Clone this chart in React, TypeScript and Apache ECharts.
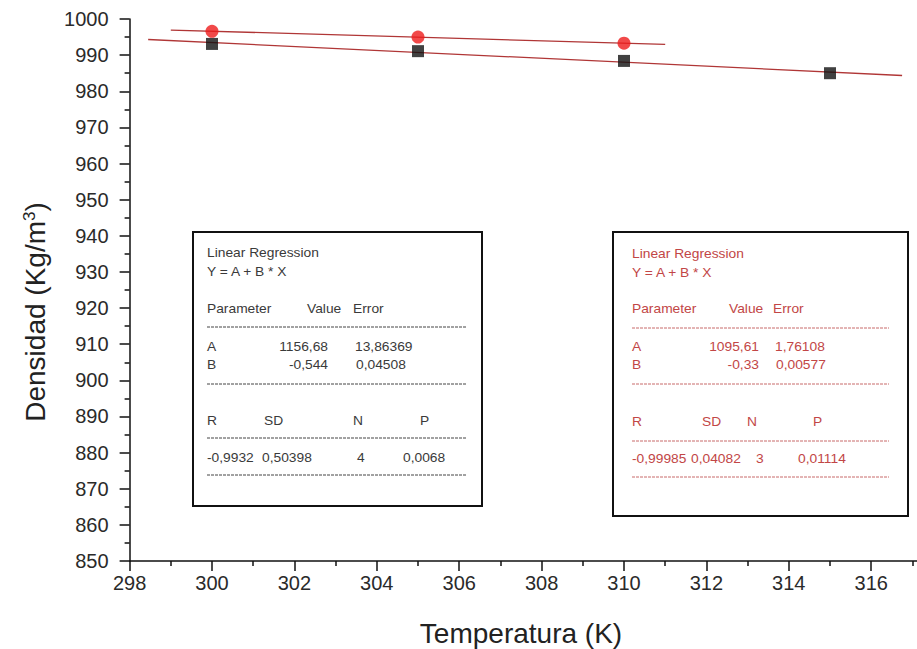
import React, { useEffect, useRef } from "react";
import * as echarts from "echarts";

// Measured densities (Kg/m3) against temperature (K)
const tempsBlack = [300, 305, 310, 315];
const densityBlack = [993.1, 991.1, 988.4, 985.0];
const tempsRed = [300, 305, 310];
const densityRed = [996.6, 995.0, 993.3];

// Linear fits Y = A + B * X : [A, A error, B, B error]
const fitBlackParams = [1156.68, 13.86369, -0.544, 0.04508];
const fitRedParams = [1095.61, 1.76108, -0.33, 0.00577];
// [R, SD, N, P]
const fitBlackStats = [-0.9932, 0.50398, 4, 0.0068];
const fitRedStats = [-0.99985, 0.04082, 3, 0.01114];
// Temperature span of each fitted line
const fitBlackRange = [298.45, 316.75];
const fitRedRange = [299, 311];

const FONT = '"Liberation Sans", Arial, sans-serif';
const fmt = (v: number) => String(v).replace(".", ",");

const fitLine = (p: number[], range: number[]) =>
  range.map((x) => [x, p[0] + p[2] * x]);

type BoxLayout = {
  color: string;
  dash: string;
  left: number;
  colX: number[]; // Value (right edge), Error (left edge)
  headX: number[]; // Value, Error headers
  statX: number[]; // R, SD, N, P headers
  statValX: number[]; // their values
  rows: number[]; // y of: title, eq, header, line1, A, B, line2, stat header, line3, stat vals, line4
  lineEnd: number;
};

function regressionBox(params: number[], stats: number[], L: BoxLayout) {
  const els: any[] = [];
  const t = (text: string, x: number, y: number, align = "left") => {
    els.push({
      type: "text",
      x,
      y,
      scaleX: 1.15,
      z: 10,
      style: {
        text,
        fill: L.color,
        font: `12px ${FONT}`,
        align,
        textAlign: align,
        verticalAlign: "middle",
        textVerticalAlign: "middle",
      },
    });
  };
  const ln = (y: number) => {
    els.push({
      type: "line",
      z: 10,
      shape: { x1: L.left, y1: y, x2: L.lineEnd, y2: y },
      style: { stroke: L.dash, lineWidth: 1, lineDash: [3, 1] },
    });
  };
  const r = L.rows;
  t("Linear Regression", L.left, r[0]);
  t("Y = A + B * X", L.left, r[1]);
  t("Parameter", L.left, r[2]);
  t("Value", L.headX[0], r[2]);
  t("Error", L.headX[1], r[2]);
  ln(r[3]);
  t("A", L.left, r[4]);
  t(fmt(params[0]), L.colX[0], r[4], "right");
  t(fmt(params[1]), L.colX[1], r[4]);
  t("B", L.left, r[5]);
  t(fmt(params[2]), L.colX[0], r[5], "right");
  t(fmt(params[3]), L.colX[1] + 1, r[5]);
  ln(r[6]);
  ["R", "SD", "N", "P"].forEach((s, i) => t(s, L.statX[i], r[7]));
  ln(r[8]);
  stats.forEach((v, i) => t(fmt(v), L.statValX[i], r[9]));
  ln(r[10]);
  return els;
}

export default function App() {
  const ref = useRef<HTMLDivElement>(null);

  useEffect(() => {
    if (!ref.current) return;
    const chart = echarts.init(ref.current, null, { renderer: "svg" });

    const axisCommon = {
      type: "value" as const,
      splitLine: { show: false },
      axisLine: { show: true, onZero: false, lineStyle: { color: "#111", width: 1.5 } },
      axisTick: { show: true, inside: false, length: 10, lineStyle: { color: "#111", width: 1.5 } },
      minorTick: { show: true, splitNumber: 2, length: 5, lineStyle: { color: "#111", width: 1.5 } },
      minorSplitLine: { show: false },
    };
    const labelStyle = {
      fontSize: 20,
      fontFamily: FONT,
      color: "#2a2a2a",
      formatter: (v: number) => String(v),
    };

    const leftBox = regressionBox(fitBlackParams, fitBlackStats, {
      color: "#3a3a3a",
      dash: "#444",
      left: 207,
      colX: [328, 355],
      headX: [307, 353],
      statX: [207, 264, 353, 420],
      statValX: [207, 262, 357, 403],
      rows: [253, 272, 309, 327, 347, 365, 384, 421, 438, 458, 475],
      lineEnd: 467,
    });
    const rightBox = regressionBox(fitRedParams, fitRedStats, {
      color: "#c24646",
      dash: "#c86a6a",
      left: 632,
      colX: [759, 775],
      headX: [729, 773],
      statX: [632, 702, 747, 813],
      statValX: [632, 691, 756, 798],
      rows: [254, 273, 309, 328, 347, 365, 384, 422, 441, 459, 477],
      lineEnd: 889,
    });

    chart.setOption({
      animation: false,
      backgroundColor: "#ffffff",
      grid: {
        left: 129.6,
        top: 19,
        bottom: 88,
        right: -36.6,
        containLabel: false,
        outerBoundsMode: "none",
      },
      xAxis: {
        ...axisCommon,
        min: 298,
        max: 318,
        interval: 2,
        axisLabel: { ...labelStyle, margin: 12, showMaxLabel: false },
      },
      yAxis: {
        ...axisCommon,
        min: 850,
        max: 1000,
        interval: 10,
        axisLabel: { ...labelStyle, margin: 21 },
      },
      series: [
        {
          type: "line",
          data: fitLine(fitBlackParams, fitBlackRange),
          symbol: "none",
          silent: true,
          lineStyle: { color: "#b03636", width: 1.3 },
          z: 1,
        },
        {
          type: "line",
          data: fitLine(fitRedParams, fitRedRange),
          symbol: "none",
          silent: true,
          lineStyle: { color: "#b03636", width: 1.3 },
          z: 1,
        },
        {
          type: "scatter",
          data: tempsBlack.map((t, i) => [t, densityBlack[i]]),
          symbol: "rect",
          symbolSize: 12,
          itemStyle: { color: "#111" },
          z: 3,
        },
        {
          type: "scatter",
          data: tempsRed.map((t, i) => [t, densityRed[i]]),
          symbol: "circle",
          symbolSize: 13,
          itemStyle: { color: "#ee1c1c" },
          z: 3,
        },
      ],
      graphic: [
        {
          type: "rect",
          z: 5,
          shape: { x: 193, y: 232, width: 289, height: 274 },
          style: { fill: "#fff", stroke: "#111", lineWidth: 2 },
        },
        {
          type: "rect",
          z: 5,
          shape: { x: 613, y: 232, width: 295, height: 284 },
          style: { fill: "#fff", stroke: "#111", lineWidth: 2 },
        },
        ...leftBox,
        ...rightBox,
        {
          type: "text",
          x: 521,
          y: 633,
          style: {
            text: "Temperatura (K)",
            fill: "#222",
            font: `28px ${FONT}`,
            align: "center",
            textAlign: "center",
            verticalAlign: "middle",
            textVerticalAlign: "middle",
          },
        },
        {
          type: "text",
          x: 35,
          y: 312,
          rotation: Math.PI / 2,
          style: {
            text: "Densidad (Kg/m{sup|3})",
            fill: "#222",
            fontSize: 28,
            fontFamily: FONT,
            align: "center",
            textAlign: "center",
            verticalAlign: "middle",
            textVerticalAlign: "middle",
            rich: {
              sup: { fontSize: 17, fontFamily: FONT, fill: "#222", verticalAlign: "top" },
            },
          },
        },
      ],
    });

    return () => chart.dispose();
  }, []);

  return (
    <div
      ref={ref}
      style={{ position: "fixed", left: 0, top: 0, width: 917, height: 649, background: "#fff" }}
    />
  );
}
